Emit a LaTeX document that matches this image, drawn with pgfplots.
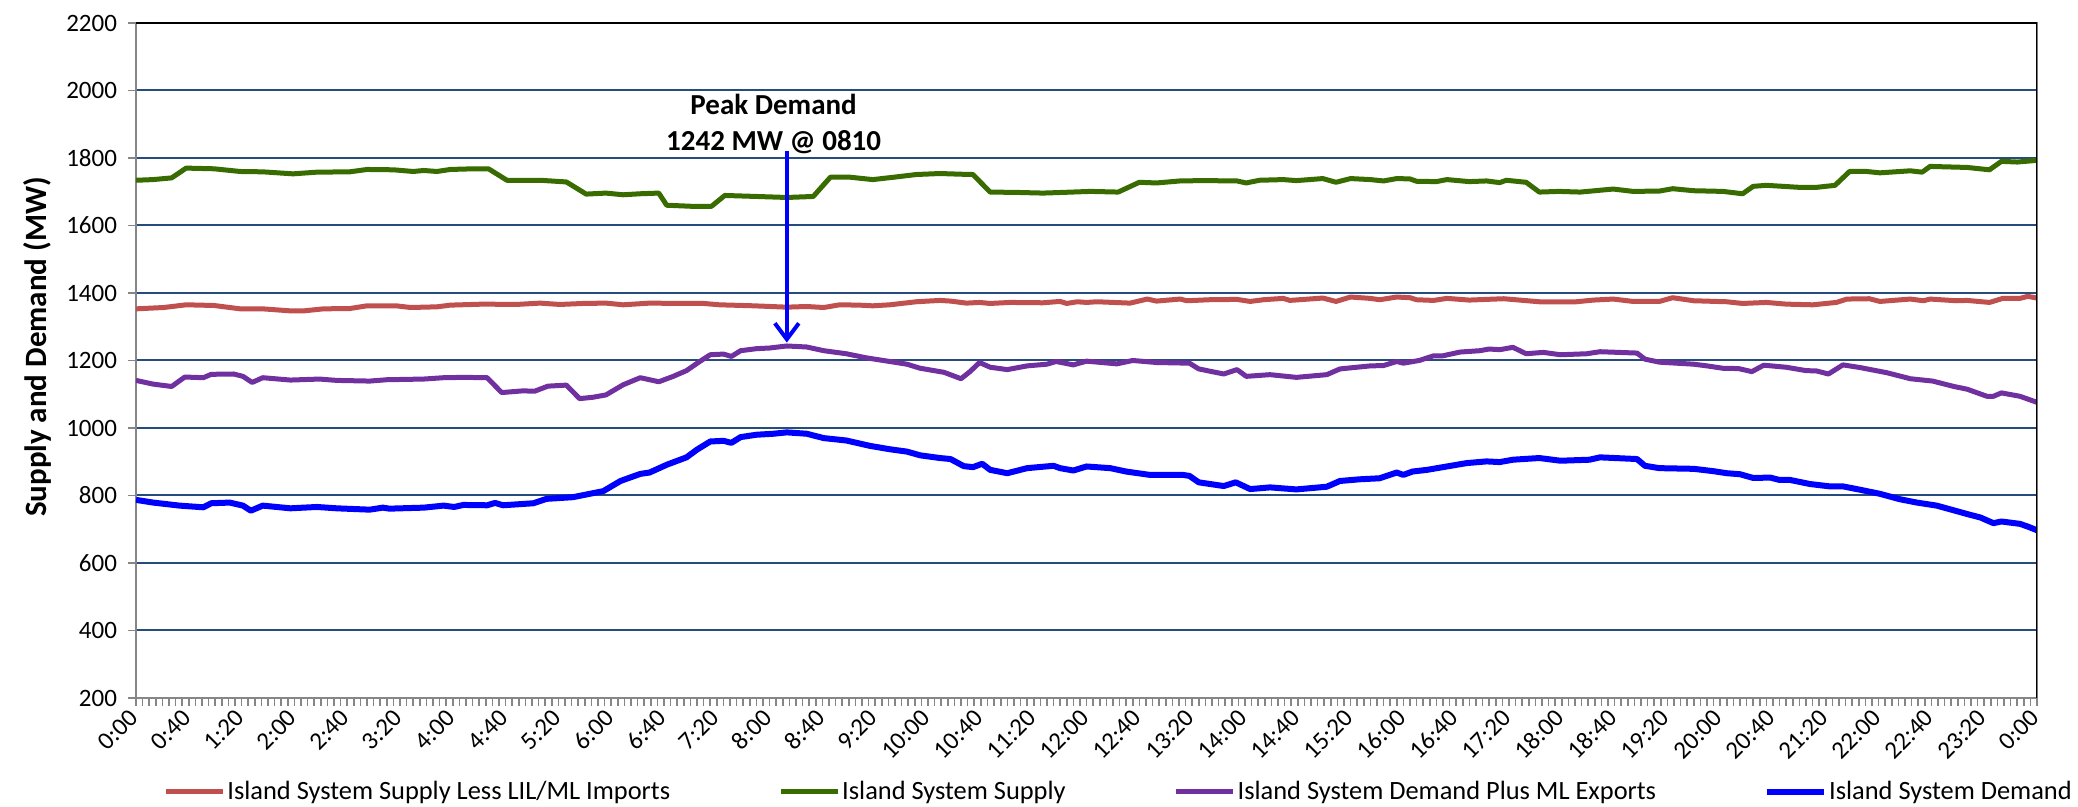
\documentclass[border=0pt]{standalone}
\usepackage{fontspec}
\setmainfont{Carlito}
\usepackage{pgfplots}
\pgfplotsset{compat=1.18}
\usetikzlibrary{arrows.meta}
\definecolor{cred}{RGB}{192,80,77}
\definecolor{cgreen}{RGB}{56,107,0}
\definecolor{cpurple}{RGB}{112,48,160}
\definecolor{cblue}{RGB}{0,0,255}
\definecolor{gridblue}{RGB}{38,76,125}
\definecolor{axisgray}{RGB}{134,134,134}
\begin{document}
\begin{tikzpicture}
\begin{axis}[name=ax, scale only axis, width=950.5pt, height=337.5pt,
  xmin=0, xmax=1440, ymin=200, ymax=2200,
  xtick={0,40,...,1440},
  xticklabels={0:00,0:40,1:20,2:00,2:40,3:20,4:00,4:40,5:20,6:00,6:40,7:20,8:00,8:40,9:20,10:00,10:40,11:20,12:00,12:40,13:20,14:00,14:40,15:20,16:00,16:40,17:20,18:00,18:40,19:20,20:00,20:40,21:20,22:00,22:40,23:20,0:00},
  minor xtick={0,5,...,1440},
  ytick={200,400,...,2200},
  ymajorgrids, major grid style={gridblue, line width=1pt},
  axis line style={axisgray, line width=1pt},
  tick style={axisgray, line width=0.8pt},
  tick align=outside, major tick length=4pt, minor tick length=4pt,
  xtick pos=bottom, ytick pos=left,
  /pgf/number format/assume math mode=true,
  /pgf/number format/1000 sep={},
  ticklabel style={font=\fontsize{12.5}{15}\selectfont},
  xticklabel style={rotate=45, anchor=east, yshift=-2pt},
  yticklabel style={xshift=-2pt},
  ylabel={Supply and Demand (MW)},
  ylabel style={font=\bfseries\fontsize{15.5}{18}\selectfont, at={([xshift=-49.5pt]axis description cs:0,0.52)}, anchor=center},
  legend columns=4,
  legend image code/.code={\draw[#1] (0pt,0pt) -- (28.5pt,0pt);},
  legend style={at={(0,0)}, anchor=west, xshift=13.5pt, yshift=-47pt, draw=none, fill=none, inner sep=0pt,
    font=\fontsize{13.2}{15}\selectfont, cells={anchor=west},
    nodes={inner xsep=1pt, inner ysep=0pt},
    /tikz/every even column/.append style={column sep=53pt}},
  every axis plot/.append style={line width=2.5pt, line join=round},
]
\addplot[cred] coordinates {
(0,1353)(21,1357)(38,1365)(59,1363)(79,1353)(96,1353)(117,1347)(127,1347)(142,1353)(162,1354)
(175,1362)(197,1362)(208,1357)(228,1359)(238,1364)(263,1367)(288,1366)(306,1370)(321,1366)(339,1369)
(356,1370)(369,1365)(389,1370)(412,1369)(430,1369)(442,1365)(468,1362)(493,1358)(508,1360)(521,1357)
(533,1365)(548,1364)(558,1362)(571,1365)(591,1374)(609,1378)(617,1376)(629,1370)(639,1372)(647,1369)
(662,1372)(687,1371)(700,1375)(705,1369)(713,1374)(720,1372)(728,1374)(753,1370)(766,1382)(773,1376)
(791,1382)(796,1377)(813,1380)(834,1381)(844,1375)(854,1380)(869,1384)(874,1378)(899,1385)(909,1375)
(920,1388)(935,1384)(942,1380)(955,1388)(965,1386)(970,1380)(983,1378)(993,1384)(1010,1379)(1036,1383)
(1063,1374)(1091,1374)(1104,1379)(1119,1382)(1134,1375)(1154,1375)(1164,1386)(1180,1377)(1205,1374)(1217,1369)
(1235,1372)(1250,1367)(1270,1365)(1288,1372)(1296,1382)(1313,1383)(1321,1375)(1344,1382)(1354,1377)(1359,1382)
(1379,1377)(1387,1378)(1404,1372)(1414,1384)(1427,1384)(1433,1390)(1440,1385)};
\addlegendentry{Island System Supply Less LIL/ML Imports}
\addplot[cgreen] coordinates {
(0,1734)(13,1736)(27,1741)(38,1770)(59,1768)(79,1760)(96,1759)(119,1753)(137,1758)(162,1759)
(175,1766)(195,1765)(210,1760)(218,1763)(228,1760)(238,1766)(256,1768)(267,1768)(281,1734)(306,1734)
(326,1729)(341,1693)(356,1696)(369,1691)(382,1694)(396,1696)(402,1660)(420,1657)(436,1657)(446,1689)
(470,1686)(493,1683)(513,1686)(526,1743)(541,1743)(558,1736)(574,1743)(591,1751)(609,1754)(624,1752)
(634,1751)(647,1699)(667,1698)(687,1696)(702,1698)(723,1701)(744,1699)(760,1728)(773,1726)(791,1732)
(808,1733)(834,1732)(841,1726)(851,1734)(869,1736)(879,1733)(899,1739)(909,1728)(920,1739)(935,1736)
(945,1732)(955,1739)(965,1738)(970,1731)(985,1730)(993,1736)(1010,1730)(1023,1732)(1033,1727)(1038,1734)
(1053,1728)(1063,1699)(1078,1701)(1094,1699)(1119,1708)(1134,1701)(1154,1702)(1164,1709)(1180,1703)(1202,1701)
(1217,1694)(1225,1716)(1235,1719)(1260,1713)(1273,1713)(1287,1719)(1298,1760)(1311,1760)(1321,1756)(1344,1762)
(1353,1758)(1359,1775)(1387,1772)(1404,1765)(1413,1790)(1425,1788)(1440,1793)};
\addlegendentry{Island System Supply}
\addplot[cpurple] coordinates {
(0,1141)(13,1130)(27,1123)(37,1151)(51,1149)(57,1159)(74,1160)(81,1153)(88,1135)(96,1149)
(117,1142)(139,1145)(152,1141)(177,1139)(190,1143)(218,1145)(233,1149)(248,1150)(266,1149)(277,1105)
(293,1110)(302,1109)(312,1124)(326,1127)(336,1087)(346,1091)(356,1098)(369,1128)(382,1149)(396,1137)
(407,1153)(417,1170)(427,1197)(435,1217)(445,1219)(451,1212)(458,1229)(470,1235)(480,1237)(493,1243)
(508,1240)(521,1229)(538,1220)(553,1208)(571,1197)(584,1189)(594,1177)(612,1165)(625,1146)(632,1168)
(639,1194)(647,1180)(660,1173)(675,1184)(690,1189)(697,1197)(710,1187)(720,1198)(743,1190)(755,1200)
(773,1194)(798,1192)(805,1175)(824,1160)(834,1173)(841,1153)(859,1158)(879,1150)(902,1158)(912,1175)
(935,1184)(945,1185)(955,1197)(960,1192)(972,1200)(983,1214)(990,1214)(1003,1225)(1018,1229)(1025,1234)
(1033,1232)(1043,1239)(1053,1220)(1066,1224)(1079,1217)(1099,1220)(1109,1226)(1137,1222)(1143,1204)(1154,1195)
(1180,1189)(1190,1184)(1202,1177)(1214,1176)(1224,1167)(1233,1186)(1250,1180)(1265,1170)(1273,1169)(1282,1160)
(1293,1187)(1306,1179)(1326,1164)(1344,1146)(1361,1139)(1377,1123)(1387,1115)(1402,1094)(1407,1094)(1413,1104)
(1427,1094)(1440,1076)};
\addlegendentry{Island System Demand Plus ML Exports}
\addplot[cblue, line width=3pt] coordinates {
(0,787)(13,779)(33,770)(51,765)(57,777)(71,779)(81,770)(87,755)(96,770)(117,762)
(137,766)(152,762)(177,758)(187,764)(192,761)(218,764)(233,770)(241,766)(248,772)(266,771)
(272,778)(278,771)(301,777)(311,790)(331,795)(354,813)(367,843)(382,864)(389,868)(402,891)
(417,913)(425,936)(435,960)(445,962)(451,956)(458,973)(470,980)(483,983)(493,987)(508,983)
(521,970)(538,963)(556,947)(571,937)(584,930)(594,919)(609,911)(617,908)(627,887)(634,884)
(641,894)(647,876)(660,866)(675,881)(695,888)(700,881)(710,874)(720,886)(738,881)(750,871)
(768,861)(793,861)(798,858)(805,839)(824,828)(833,839)(844,819)(859,824)(879,818)(902,826)
(912,843)(927,848)(942,851)(955,868)(960,861)(967,871)(978,876)(990,884)(1008,896)(1023,901)
(1033,899)(1043,906)(1063,911)(1079,903)(1101,906)(1109,913)(1137,908)(1143,888)(1154,881)(1180,879)
(1195,872)(1205,866)(1215,863)(1225,852)(1238,853)(1245,846)(1253,846)(1268,834)(1283,827)(1293,827)
(1306,817)(1321,805)(1336,789)(1349,779)(1364,770)(1377,756)(1389,743)(1397,735)(1407,718)(1413,723)
(1427,716)(1433,708)(1440,697)};
\addlegendentry{Island System Demand}
\draw[black, line width=1pt] (rel axis cs:0,1) -- (rel axis cs:1,1) -- (rel axis cs:1,0);
\node[align=center, font=\bfseries\fontsize{14.5}{18}\selectfont, inner sep=0pt] at (axis cs:483,1900) {Peak Demand\\1242 MW @ 0810};
\draw[cblue, line width=2pt, -{Straight Barb[length=8pt,width=12pt,line width=2pt]}] (axis cs:493,1820) -- (axis cs:493,1253);
\end{axis}
\pgfresetboundingbox
\path[use as bounding box] ([xshift=-68pt,yshift=-54.5pt]ax.south west) rectangle ([xshift=20.5pt,yshift=11.5pt]ax.north east);
\end{tikzpicture}
\end{document}
